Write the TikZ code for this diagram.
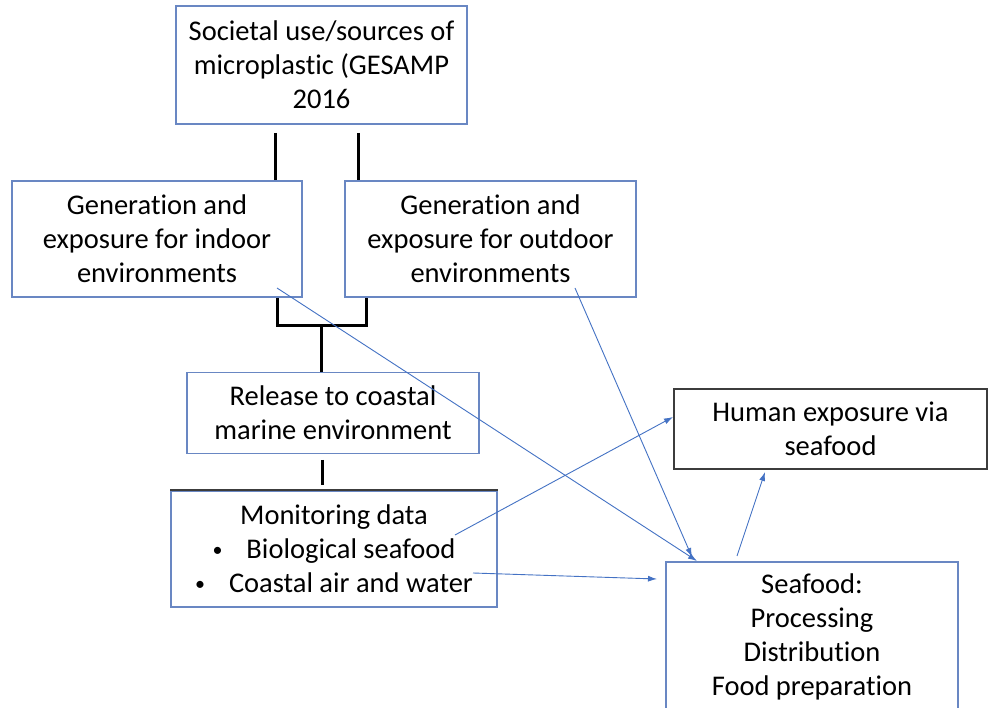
\documentclass[tikz,border=0pt]{standalone}
\usepackage{fontspec}
\setmainfont{Carlito}[Ligatures=NoCommon]
\usetikzlibrary{arrows.meta}
\definecolor{boxblue}{RGB}{105,135,195}
\definecolor{arrowblue}{RGB}{68,114,196}
\definecolor{boxdark}{RGB}{60,60,60}
\newcommand{\smallbullet}{\raisebox{2.5pt}{\fontsize{20}{20}\selectfont\textbullet}}
\tikzset{
  stagebox/.style={draw=boxblue,line width=1.2pt,inner sep=0pt,align=center,
    font=\fontsize{28.5}{34}\selectfont},
  bar/.style={line width=3pt,black},
  flow/.style={arrowblue,line width=0.9pt,-{Latex[length=9pt,width=6pt]}}
}
\begin{document}
\begin{tikzpicture}[x=1pt,y=-1pt]

\useasboundingbox[fill=white] (0,0) rectangle (989,708);

%boxes
\node[stagebox,minimum width=291,minimum height=118] (sources) at (321.5,65)
  {Societal use/sources of\\microplastic (GESAMP\\2016};
\node[stagebox,minimum width=290,minimum height=116] (indoor) at (157,239)
  {Generation and\\exposure for indoor\\environments};
\node[stagebox,minimum width=291,minimum height=116] (outdoor) at (490.5,239)
  {Generation and\\exposure for outdoor\\environments};
\node[stagebox,minimum width=292,minimum height=81] (release) at (333,413)
  {Release to coastal\\marine environment};
\node[stagebox,minimum width=326,minimum height=116] (monitor) at (334,549)
  {Monitoring data\\\smallbullet\hspace{24pt}Biological seafood\\\smallbullet\hspace{24pt}Coastal air and water};
\draw[boxdark,line width=2pt] (monitor.north west) -- (monitor.north east); %dark top edge
\node[stagebox,draw=boxdark,minimum width=313,minimum height=80] (human) at (830.5,429)
  {Human exposure via\\seafood};
\node[stagebox,minimum width=292,minimum height=150] (seafood) at (812,637)
  {Seafood:\\Processing\\Distribution\\Food preparation};

%black connectors
\coordinate (srcL) at (275,133);
\coordinate (srcR) at (358,133);
\coordinate (inL) at (277,298);
\coordinate (outR) at (366,298);
\coordinate (joinL) at (277,326);
\coordinate (joinR) at (366,326);
\coordinate (joinM) at (321,326);
\coordinate (relGap) at (322,460);
\coordinate (monGap) at (322,485);
\draw[bar] (srcL) -- (srcL |- indoor.north);
\draw[bar] (srcR) -- (srcR |- outdoor.north);
\draw[bar,line join=miter] (inL) -- (joinL) -- (joinR) -- (outR);
\draw[bar] (joinM) -- (joinM |- release.north);
\draw[bar] (relGap) -- (monGap);

%blue arrows
\coordinate (indoorOut) at (277,288);
\coordinate (outdoorOut) at (575,288);
\coordinate (bioOut) at (455,535);
\coordinate (airOut) at (473,573);
\coordinate (seafoodOut) at (737,556);
\coordinate (seafoodInA) at (697,561);
\coordinate (seafoodInB) at (692,557);
\coordinate (seafoodInC) at (657,579);
\coordinate (humanInA) at (673,417);
\coordinate (humanInB) at (765,472);
\draw[flow] (indoorOut) -- (seafoodInA);
\draw[flow] (outdoorOut) -- (seafoodInB);
\draw[flow] (bioOut) -- (humanInA);
\draw[flow] (airOut) -- (seafoodInC);
\draw[flow] (seafoodOut) -- (humanInB);

\end{tikzpicture}
\end{document}
